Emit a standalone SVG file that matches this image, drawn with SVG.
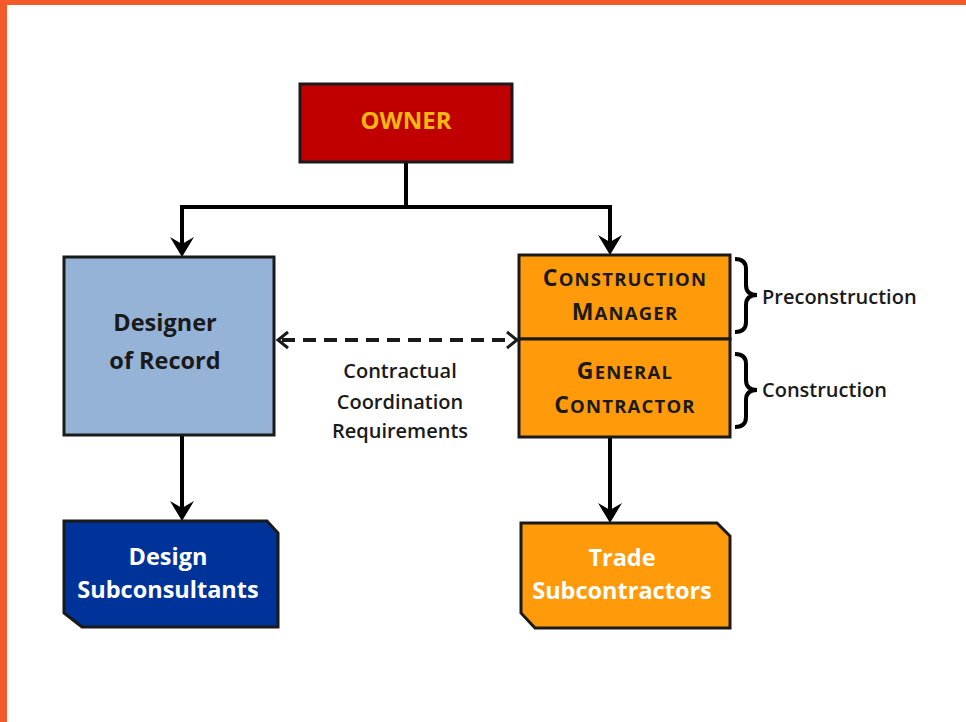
<svg xmlns="http://www.w3.org/2000/svg" width="966" height="722" viewBox="0 0 966 722">
  <style>
    .box { stroke: #1a1a1a; stroke-width: 3; }
    .t { font-family: "Open Sans", "Noto Sans", "Liberation Sans", sans-serif; font-weight: 700; text-anchor: middle; }
    .dark { fill: #1a1a1a; }
    .lbl { font-family: "Open Sans", "Noto Sans", "Liberation Sans", sans-serif; font-weight: 600; fill: #1a1a1a; font-size: 20px; }
    .wire { fill: none; stroke: #000; stroke-width: 4; }
    .head { fill: #000; }
    .brace { fill: none; stroke: #000; stroke-width: 4; }
  </style>

  <!-- page frame -->
  <rect x="0" y="0" width="966" height="722" fill="#fff"/>
  <rect x="0" y="0" width="966" height="5" fill="#F25A2A"/>
  <rect x="0" y="0" width="7" height="722" fill="#F25A2A"/>

  <!-- connectors -->
  <g id="connectors">
    <path class="wire" d="M406,162 V207 M180,207 H612 M182,207 V245 M610,207 V243"/>
    <path class="head" d="M182,257 L170,237 L182,244 L194,237 Z"/>
    <path class="head" d="M610,255 L598,235 L610,242 L622,235 Z"/>
    <path class="wire" d="M182,435 V508"/>
    <path class="head" d="M182,521 L170,501 L182,508 L194,501 Z"/>
    <path class="wire" d="M610,437 V510"/>
    <path class="head" d="M610,523 L598,503 L610,510 L622,503 Z"/>
    <!-- contractual coordination link -->
    <path fill="none" stroke="#1a1a1a" stroke-width="4" stroke-dasharray="13 8" d="M282,340 H513"/>
    <path fill="none" stroke="#1a1a1a" stroke-width="3" d="M288,332 L278,340 L288,348 M507,332 L517,340 L507,348"/>
    <!-- phase braces -->
    <path class="brace" d="M735,259 Q746,259 746,269 V285 Q746,295 757,295 Q746,295 746,305 V322 Q746,332 735,332"/>
    <path class="brace" d="M735,354 Q746,354 746,364 V380 Q746,390 757,390 Q746,390 746,400 V417 Q746,427 735,427"/>
  </g>

  <g id="owner">
    <rect class="box" x="300" y="84" width="212" height="78" fill="#C00000"/>
    <text class="t" x="406" y="129" font-size="24" fill="#F5B80F">OWNER</text>
  </g>

  <g id="designer">
    <rect class="box" x="64" y="257" width="210" height="178" fill="#95B3D7"/>
    <text class="t dark" x="165" y="331" font-size="23.5">Designer</text>
    <text class="t dark" x="165" y="369" font-size="23.5">of Record</text>
  </g>

  <g id="construction-manager">
    <rect class="box" x="519" y="255" width="211" height="84" fill="#FF9A0A"/>
    <text class="t dark" x="625" y="286" font-size="18.5" letter-spacing="1.2"><tspan font-size="23">C</tspan>ONSTRUCTION</text>
    <text class="t dark" x="625" y="320" font-size="18.5" letter-spacing="1.2"><tspan font-size="23">M</tspan>ANAGER</text>
  </g>

  <g id="general-contractor">
    <rect class="box" x="519" y="339" width="211" height="98" fill="#FF9A0A"/>
    <text class="t dark" x="625" y="379" font-size="18.5" letter-spacing="1.2"><tspan font-size="23">G</tspan>ENERAL</text>
    <text class="t dark" x="625" y="413" font-size="18.5" letter-spacing="1.2"><tspan font-size="23">C</tspan>ONTRACTOR</text>
  </g>

  <g id="design-subconsultants">
    <polygon class="box" points="64,521 267,521 278,533 278,627 82,627 64,613" fill="#003399"/>
    <text class="t" x="168" y="565" font-size="23.5" fill="#fff">Design</text>
    <text class="t" x="168" y="598" font-size="23.5" fill="#fff">Subconsultants</text>
  </g>

  <g id="trade-subcontractors">
    <polygon class="box" points="521,523 717,523 730,536 730,628 535,628 521,613" fill="#FF9A0A"/>
    <text class="t" x="622" y="566" font-size="23.5" fill="#fff">Trade</text>
    <text class="t" x="622" y="599" font-size="23.5" fill="#fff">Subcontractors</text>
  </g>

  <g id="coordination-label">
    <text class="lbl" x="400" y="378" text-anchor="middle">Contractual</text>
    <text class="lbl" x="400" y="409" text-anchor="middle">Coordination</text>
    <text class="lbl" x="400" y="438" text-anchor="middle">Requirements</text>
  </g>

  <g id="phase-labels">
    <text class="lbl" x="762" y="304" font-size="20.5">Preconstruction</text>
    <text class="lbl" x="762" y="397" font-size="20.5">Construction</text>
  </g>
</svg>
